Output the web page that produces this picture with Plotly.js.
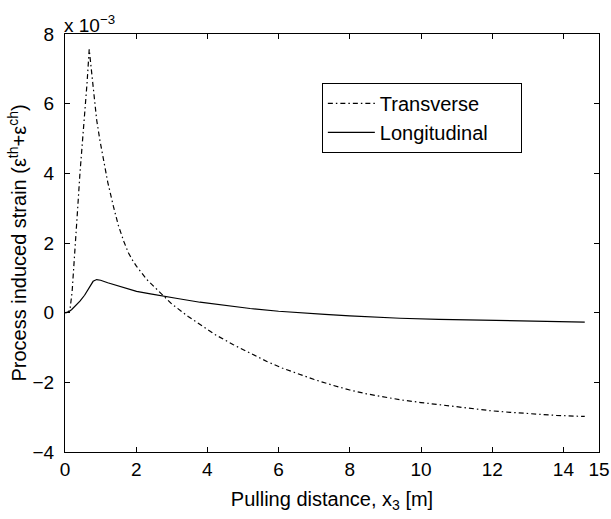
<!DOCTYPE html>
<html>
<head>
<meta charset="utf-8">
<script src="https://cdn.plot.ly/plotly-3.0.1.min.js"></script>
<style>html,body{margin:0;padding:0;background:#fff;}#chart{width:611px;height:519px;}</style>
</head>
<body>
<div id="chart"></div>
<script>
// Values in units of 1e-3 (axis multiplier "x 10^-3")
const transverseX = [0, 0.05, 0.1, 0.14, 0.2, 0.28, 0.35, 0.42, 0.49, 0.56, 0.62, 0.68, 0.75, 0.82, 0.89, 0.98, 1.08, 1.2, 1.36, 1.5, 1.65, 1.78, 1.9, 2.01, 2.3, 2.67, 3.0, 3.46, 3.79, 4.2, 4.73, 5.2, 5.67, 6.1, 6.6, 7.0, 7.54, 8.0, 8.47, 9.0, 9.41, 10.0, 10.5, 11.28, 12.0, 12.5, 13.15, 13.8, 14.6];
const transverseY = [0, 0.0, 0.03, 0.09, 0.6, 1.72, 2.9, 4.0, 4.9, 5.73, 6.6, 7.56, 6.9, 6.1, 5.53, 4.95, 4.4, 3.75, 3.05, 2.5, 2.05, 1.72, 1.5, 1.33, 0.95, 0.57, 0.25, -0.11, -0.34, -0.62, -0.92, -1.17, -1.4, -1.59, -1.78, -1.92, -2.09, -2.22, -2.33, -2.43, -2.5, -2.58, -2.64, -2.74, -2.82, -2.86, -2.91, -2.95, -2.98];

const longitudinalX = [0, 0.1, 0.19, 0.3, 0.42, 0.55, 0.65, 0.79, 0.89, 1.0, 1.2, 1.45, 1.7, 2.01, 2.4, 2.76, 3.2, 3.79, 4.45, 5.2, 6.0, 6.6, 7.3, 8.0, 8.7, 9.41, 10.5, 11.75, 13.0, 14.6];
const longitudinalY = [0, 0.02, 0.09, 0.2, 0.33, 0.5, 0.66, 0.9, 0.95, 0.93, 0.86, 0.78, 0.7, 0.61, 0.54, 0.47, 0.4, 0.3, 0.21, 0.12, 0.04, -0.01, -0.05, -0.09, -0.13, -0.16, -0.19, -0.22, -0.25, -0.27];

const xTickVals = [0, 2, 4, 6, 8, 10, 12, 14, 15];
const xTickText = ['0', '2', '4', '6', '8', '10', '12', '14', '15'];
const yTickVals = [-4, -2, 0, 2, 4, 6, 8];
const yTickText = ['\u22124', '\u22122', '0', '2', '4', '6', '8'];
const legendNames = ['Transverse', 'Longitudinal'];

const FONT = 'Liberation Sans, Arial, Helvetica, sans-serif';
const PAD = '\u00a0\u00a0\u00a0\u00a0\u00a0';

const traces = [
  {x: transverseX, y: transverseY, type: 'scatter', mode: 'lines', name: legendNames[0] + PAD,
   line: {color: '#000', width: 1.2, dash: '5px,3px,1.5px,3px'}},
  {x: longitudinalX, y: longitudinalY, type: 'scatter', mode: 'lines', name: legendNames[1] + PAD,
   line: {color: '#000', width: 1.2}}
];

const axisCommon = {
  showline: true, linecolor: '#000', linewidth: 1, mirror: 'ticks',
  ticks: 'inside', ticklen: 5, tickwidth: 1, tickcolor: '#000',
  showgrid: false, zeroline: false,
  tickfont: {family: FONT, size: 19, color: '#000'}
};

const layout = {
  width: 611, height: 519,
  margin: {l: 65, r: 12, t: 34, b: 67},
  paper_bgcolor: '#fff', plot_bgcolor: '#fff',
  font: {family: FONT, color: '#000'},
  showlegend: true,
  legend: {
    x: 0.481, y: 0.883, xanchor: 'left', yanchor: 'top',
    bordercolor: '#000', borderwidth: 1, bgcolor: '#fff',
    font: {family: FONT, size: 20, color: '#000'},
    itemwidth: 47, tracegroupgap: 0
  },
  xaxis: Object.assign({}, axisCommon, {
    range: [0, 15], tickmode: 'array', tickvals: xTickVals, ticktext: xTickText,
    title: {text: 'Pulling distance, x<sub>3</sub> [m]', font: {family: FONT, size: 20, color: '#000'}, standoff: 13}
  }),
  yaxis: Object.assign({}, axisCommon, {
    range: [-4, 8], tickmode: 'array', tickvals: yTickVals, ticktext: yTickText,
    ticklabelstandoff: 6,
    title: {text: 'Process induced strain (\u03b5<sup>th</sup>+\u03b5<sup>ch</sup>)', font: {family: FONT, size: 20, color: '#000'}, standoff: 0}
  }),
  annotations: [{
    xref: 'paper', yref: 'paper', x: 0, y: 1, xanchor: 'left', yanchor: 'bottom',
    text: 'x 10<sup>\u22123</sup>', showarrow: false, font: {family: FONT, size: 19, color: '#000'},
    xshift: -3, yshift: -4
  }]
};

Plotly.newPlot('chart', traces, layout, {displayModeBar: false, staticPlot: true});
</script>
</body>
</html>
